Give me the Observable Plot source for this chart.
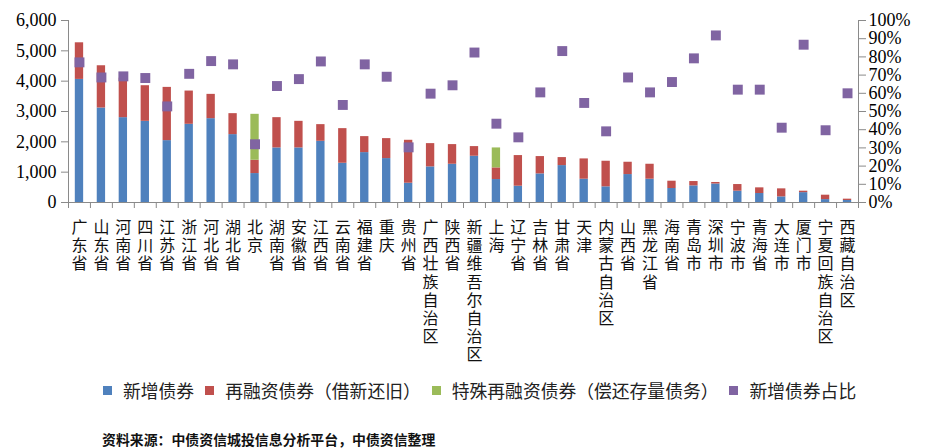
<!DOCTYPE html>
<html><head><meta charset="utf-8">
<script src="https://cdn.jsdelivr.net/npm/d3@7"></script>
<script src="https://cdn.jsdelivr.net/npm/@observablehq/plot@0.6"></script>
<style>
body{margin:0;background:#fff;width:930px;height:448px;position:relative;overflow:hidden}
#chart{position:absolute;left:0;top:0}
#legend{position:absolute;left:103px;top:377px;display:flex;align-items:center;font:17.8px "Noto Sans CJK SC";color:#222;white-space:nowrap;line-height:26px}
.sw{width:9px;height:9px;display:inline-block;margin-right:11px}
.item{display:flex;align-items:center;margin-right:11px}
#caption{position:absolute;left:102px;top:432px;font:bold 13.9px "Noto Sans CJK SC";color:#111;line-height:15px}
</style></head><body>
<div id="chart"></div><div id="legend"></div><div id="caption"></div>
<script>
const regions = ["广东省","山东省","河南省","四川省","江苏省","浙江省","河北省","湖北省","北京","湖南省","安徽省","江西省","云南省","福建省","重庆","贵州省","广西壮族自治区","陕西省","新疆维吾尔自治区","上海","辽宁省","吉林省","甘肃省","天津","内蒙古自治区","山西省","黑龙江省","海南省","青岛市","深圳市","宁波市","青海省","大连市","厦门市","宁夏回族自治区","西藏自治区"];
const newBonds = [4058,3115,2797,2676,2040,2578,2764,2238,954,1799,1799,2018,1294,1645,1448,636,1174,1261,1525,757,537,943,1217,768,516,921,768,461,548,610,373,296,185,325,96,66];
const refinance = [1207,1393,1303,1174,1755,1096,801,691,439,998,877,549,1141,527,658,1415,767,648,318,384,1010,571,264,669,844,406,493,241,143,50,219,187,265,48,145,44];
const specialRefinance = [0,0,0,0,0,0,0,0,1514,0,0,0,0,0,0,0,0,0,0,658,0,0,0,0,0,0,0,0,0,0,0,0,0,0,0,0];
const newShare = [77,68.7,69.3,68.4,52.8,70.7,77.7,75.9,32,64,67.8,77.5,53.6,75.9,69.1,30.3,59.8,64.4,82.4,43.3,35.8,60.5,83.2,54.7,39.1,68.7,60.5,66.2,79.2,91.8,62,62,41.1,86.7,39.7,60];
const seriesNames = ["新增债券","再融资债券（借新还旧）","特殊再融资债券（偿还存量债务）"];
const shareName = "新增债券占比";
const seriesColors = ["#4F81BD","#C0504D","#9BBB59"];
const shareColor = "#8064A2";
const yTicks = [0,1000,2000,3000,4000,5000,6000];
const pctTicks = [0,10,20,30,40,50,60,70,80,90,100];
const caption = "资料来源：中债资信城投信息分析平台，中债资信整理";

const seriesValues = [newBonds, refinance, specialRefinance];
const rows = [];
seriesNames.forEach((s, k) => regions.forEach((r, i) => rows.push({region: r, series: s, value: seriesValues[k][i]})));
const shareRows = regions.map((r, i) => ({region: r, share: newShare[i]}));

const W = 930, H = 372, ML = 68, MR = 72, MT = 20, MB = 170;
const step = (W - ML - MR) / regions.length;
const yMax = yTicks[yTicks.length - 1];
const pctToY = p => p / 100 * yMax;
const gray = "#8a8a8a";
const serif = "Liberation Serif";
const cjk = "Noto Sans CJK SC";

const chart = Plot.plot({
  width: W, height: H, marginTop: MT, marginBottom: MB, marginLeft: ML, marginRight: MR,
  style: {background: "#fff"},
  x: {domain: regions, padding: 0},
  y: {domain: [0, yMax]},
  color: {domain: seriesNames, range: seriesColors},
  marks: [
    Plot.barY(rows, {x: "region", y: "value", fill: "series", order: seriesNames, insetLeft: 6.8, insetRight: 6.8}),
    Plot.ruleY([0], {stroke: gray}),
    Plot.ruleX([regions[0]], {dx: -step / 2, stroke: gray}),
    Plot.ruleX([regions[regions.length - 1]], {dx: step / 2, stroke: gray}),
    Plot.ruleX(regions, {x: d => d, y1: 0, y2: 0, insetBottom: -6, dx: -step / 2, stroke: gray}),
    Plot.ruleX([regions[regions.length - 1]], {x: d => d, y1: 0, y2: 0, insetBottom: -6, dx: step / 2, stroke: gray}),
    Plot.dot(shareRows, {x: "region", y: d => pctToY(d.share), symbol: "square", r: 5.6, fill: shareColor}),
    Plot.axisY(yTicks, {anchor: "left", tickSize: 7, tickPadding: 5, tickFormat: d3.format(","), fontSize: 18, fontFamily: serif, stroke: gray, fill: "#000", label: null}),
    Plot.axisY(pctTicks.map(pctToY), {anchor: "right", tickSize: 7, tickPadding: 3, tickFormat: d => Math.round(d / yMax * 100) + "%", fontSize: 18, fontFamily: serif, stroke: gray, fill: "#000", label: null}),
    Plot.axisX({tickSize: 0, tickPadding: 18, tickFormat: d => Array.from(d).join("\n"), fontSize: 16, lineHeight: 1.13, fontFamily: cjk, fill: "#111", label: null})
  ]
});
document.getElementById("chart").appendChild(chart);

const legend = document.getElementById("legend");
const items = seriesNames.map((n, i) => [n, seriesColors[i]]).concat([[shareName, shareColor]]);
items.forEach(([n, c]) => {
  const it = document.createElement("span"); it.className = "item";
  const sw = document.createElement("span"); sw.className = "sw"; sw.style.background = c;
  it.appendChild(sw); it.appendChild(document.createTextNode(n));
  legend.appendChild(it);
});
document.getElementById("caption").textContent = caption;
</script>
</body></html>
